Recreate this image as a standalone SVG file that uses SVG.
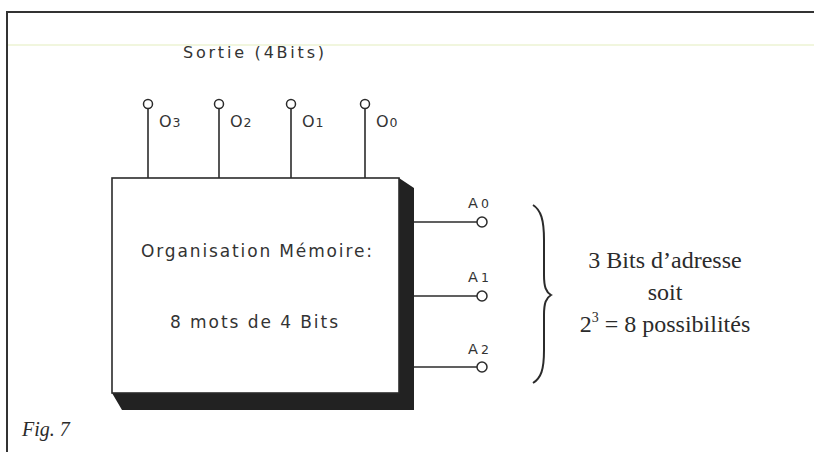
<svg xmlns="http://www.w3.org/2000/svg" width="814" height="452" viewBox="0 0 814 452">
<defs>
<style>
.ln{stroke:#2b2b2b;stroke-width:1.6;fill:none}
.pin{stroke:#2b2b2b;stroke-width:1.5;fill:#fff}
.st{font-family:"DejaVu Sans","Liberation Sans",sans-serif;fill:#333}
.sr{font-family:"Liberation Serif","Times New Roman",serif;fill:#2b2b2b}
</style>
</defs>
<rect width="814" height="452" fill="#fff"/>
<g id="frame">
<line x1="6" y1="12" x2="814" y2="12" stroke="#333" stroke-width="2"/>
<line x1="7" y1="12" x2="7" y2="452" stroke="#333" stroke-width="2"/>
<line x1="8" y1="45" x2="814" y2="45" stroke="#e4edbd" stroke-width="1.2"/>
</g>
<text class="st" x="183" y="58" font-size="16" textLength="141" lengthAdjust="spacing">Sortie (4Bits)</text>
<g id="memory">
<polygon points="399,178 414,188 414,410 122,410 112,393 399,393" fill="#222"/>
<rect x="112" y="178" width="287" height="215" fill="#fff" stroke="#2b2b2b" stroke-width="1.6"/>
<text class="st" x="141" y="257" font-size="17" textLength="231" lengthAdjust="spacing">Organisation Mémoire:</text>
<text class="st" x="170" y="328" font-size="17" textLength="168" lengthAdjust="spacing">8 mots de 4 Bits</text>
</g>
<g id="connectors">
<line class="ln" x1="148" y1="109" x2="148" y2="178"/>
<line class="ln" x1="219" y1="109" x2="219" y2="178"/>
<line class="ln" x1="291" y1="109" x2="291" y2="178"/>
<line class="ln" x1="365" y1="109" x2="365" y2="178"/>
<line class="ln" x1="414" y1="222" x2="477" y2="222"/>
<line class="ln" x1="414" y1="296" x2="477" y2="296"/>
<line class="ln" x1="414" y1="367" x2="477" y2="367"/>
</g>
<g id="O3"><circle class="pin" cx="148" cy="104" r="4.5"/><text class="st" x="159" y="127" font-size="16">O<tspan font-size="12.5" dx="1">3</tspan></text></g>
<g id="O2"><circle class="pin" cx="219" cy="104" r="4.5"/><text class="st" x="230" y="127" font-size="16">O<tspan font-size="12.5" dx="1">2</tspan></text></g>
<g id="O1"><circle class="pin" cx="291" cy="104" r="4.5"/><text class="st" x="302" y="127" font-size="16">O<tspan font-size="12.5" dx="1">1</tspan></text></g>
<g id="O0"><circle class="pin" cx="365" cy="104" r="4.5"/><text class="st" x="376" y="127" font-size="16">O<tspan font-size="12.5" dx="1">0</tspan></text></g>
<g id="A0"><circle class="pin" cx="482" cy="222" r="5"/><text class="st" x="468" y="208" font-size="14.5">A<tspan font-size="12.5" dx="3">0</tspan></text></g>
<g id="A1"><circle class="pin" cx="482" cy="296" r="5"/><text class="st" x="468" y="282" font-size="14.5">A<tspan font-size="12.5" dx="3">1</tspan></text></g>
<g id="A2"><circle class="pin" cx="482" cy="367" r="5"/><text class="st" x="468" y="354" font-size="14.5">A<tspan font-size="12.5" dx="3">2</tspan></text></g>
<g id="brace">
<path d="M533,205 C541,210 544,220 544,240 L544,275 C544,287 546,292 551,295 C546,298 544,303 544,315 L544,350 C544,370 541,378 533,383" fill="none" stroke="#2b2b2b" stroke-width="2"/>
</g>
<g id="note">
<text class="sr" x="665" y="268" font-size="24" text-anchor="middle">3 Bits d’adresse</text>
<text class="sr" x="665" y="300" font-size="24" text-anchor="middle">soit</text>
<text class="sr" x="665" y="332" font-size="24" text-anchor="middle">2<tspan font-size="14" dy="-10">3</tspan><tspan dy="10"> = 8 possibilités</tspan></text>
</g>
<text class="sr" x="22" y="436" font-size="20" font-style="italic">Fig. 7</text>
</svg>
